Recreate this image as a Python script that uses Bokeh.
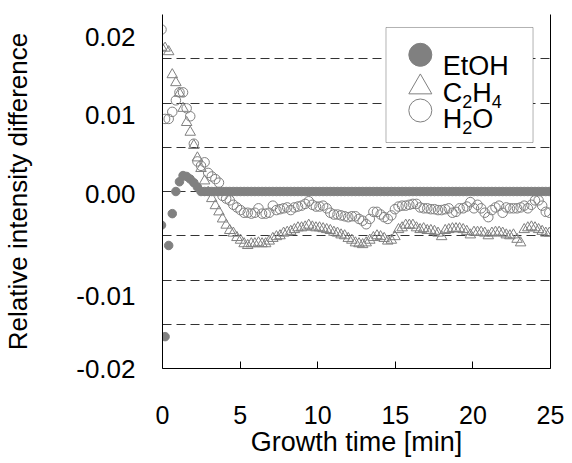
import numpy as np
from bokeh.plotting import figure
from bokeh.models import Range1d, FixedTicker, LinearAxis, Label, BoxAnnotation
from bokeh.embed import file_html
from bokeh.resources import INLINE

# ---------------- data ----------------
# sampling grid of the measurement, minutes
time_min = np.round(np.arange(109) * 0.2314 - 0.064, 3)

etoh = [-0.0038, -0.0164, -0.0061, -0.0025, 0.0, 0.0011, 0.0018, 0.0017, 0.0014, 0.0010,
        0.0005] + [0.0] * 98

c2h4 = [0.0163, 0.0162, 0.0158, 0.0132, 0.0123, 0.0111, 0.0094, 0.0078, 0.0067, 0.0052,
        0.0038, 0.0026, 0.0012, -0.0001, -0.0008, -0.0016, -0.0023, -0.0031, -0.0038, -0.0044,
        -0.0047, -0.0052, -0.0055, -0.0059, -0.0061, -0.0059, -0.0059, -0.0058, -0.0059, -0.0059,
        -0.0056, -0.0053, -0.0051, -0.0050, -0.0047, -0.0046, -0.0045, -0.0043, -0.0041, -0.0041,
        -0.0040, -0.0038, -0.0040, -0.0041, -0.0041, -0.0042, -0.0043, -0.0044, -0.0046, -0.0047,
        -0.0049, -0.0050, -0.0053, -0.0055, -0.0058, -0.0059, -0.0060, -0.0058, -0.0055, -0.0052,
        -0.0050, -0.0051, -0.0053, -0.0056, -0.0055, -0.0051, -0.0043, -0.0041, -0.0038, -0.0038,
        -0.0038, -0.0041, -0.0043, -0.0042, -0.0044, -0.0044, -0.0045, -0.0047, -0.0051, -0.0044,
        -0.0043, -0.0042, -0.0042, -0.0042, -0.0043, -0.0045, -0.0049, -0.0046, -0.0046, -0.0046,
        -0.0047, -0.0050, -0.0047, -0.0046, -0.0046, -0.0047, -0.0049, -0.0050, -0.0049, -0.0054,
        -0.0058, -0.0043, -0.0041, -0.0040, -0.0041, -0.0043, -0.0045, -0.0047, -0.0047]

h2o = [0.0183, 0.0082, 0.0082, 0.0090, 0.0103, 0.0112, 0.0112, 0.0094, 0.0085, 0.0054,
       0.0034, 0.0029, 0.0033, 0.0021, 0.0017, 0.0014, 0.0010, -0.0005, -0.0008, -0.0010,
       -0.0015, -0.0018, -0.0021, -0.0024, -0.0024, -0.0025, -0.0024, -0.0019, -0.0025, -0.0025,
       -0.0024, -0.0016, -0.0021, -0.0020, -0.0019, -0.0018, -0.0021, -0.0018, -0.0017, -0.0016,
       -0.0014, -0.0011, -0.0015, -0.0017, -0.0017, -0.0016, -0.0019, -0.0024, -0.0026, -0.0026,
       -0.0027, -0.0028, -0.0029, -0.0028, -0.0028, -0.0031, -0.0033, -0.0037, -0.0031, -0.0023,
       -0.0023, -0.0026, -0.0029, -0.0031, -0.0027, -0.0020, -0.0017, -0.0016, -0.0016, -0.0015,
       -0.0014, -0.0014, -0.0018, -0.0019, -0.0019, -0.0020, -0.0020, -0.0021, -0.0021, -0.0020,
       -0.0019, -0.0024, -0.0023, -0.0019, -0.0019, -0.0017, -0.0012, -0.0019, -0.0015, -0.0019,
       -0.0024, -0.0029, -0.0021, -0.0018, -0.0016, -0.0024, -0.0018, -0.0019, -0.0019, -0.0019,
       -0.0018, -0.0016, -0.0019, -0.0015, -0.0010, -0.0010, -0.0016, -0.0023, -0.0024]

x_ticks = [0, 5, 10, 15, 20, 25]
y_tick_values = [0.02, 0.01, 0.0, -0.01, -0.02]
y_tick_labels = ["0.02", "0.01", "0.00", "-0.01", "-0.02"]
grid_values = [-0.015, -0.01, -0.005, 0.0, 0.005, 0.01, 0.015, 0.02]

# ---------------- style / layout ----------------
FONT = "Liberation Sans"
GRAY = "#808080"
X0, X1 = 0, 25
Y0, Y1 = -0.02, 0.02
FRAME_H = 354          # frame height in px (463 - 14 - 95)
# the reference prints its y labels a little below their gridline values (px)
y_label_drop_px = [22, 12, 2, 16, 0]
y_label_pos = [round(v - d * (Y1 - Y0) / FRAME_H, 6)
               for v, d in zip(y_tick_values, y_label_drop_px)]

p = figure(width=572, height=463,
           x_range=Range1d(X0, X1), y_range=Range1d(Y0, Y1),
           output_backend="svg", toolbar_location=None,
           min_border_left=161, min_border_right=22,
           min_border_top=14, min_border_bottom=95)
p.outline_line_color = None
p.background_fill_color = "white"
p.border_fill_color = "white"

# x axis
xa = p.xaxis[0]
xa.ticker = FixedTicker(ticks=x_ticks)
xa.minor_tick_line_color = None
xa.major_tick_in = 7
xa.major_tick_out = 0
xa.major_tick_line_color = "black"
xa.axis_line_color = "black"
xa.major_label_text_font = FONT
xa.major_label_text_font_size = "25px"
xa.major_label_text_color = "black"
xa.major_label_standoff = 37
xa.axis_label = "Growth time [min]"
xa.axis_label_text_font = FONT
xa.axis_label_text_font_size = "27px"
xa.axis_label_text_font_style = "normal"
xa.axis_label_text_color = "black"
xa.axis_label_standoff = 0

# y axis
ya = p.yaxis[0]
ya.ticker = FixedTicker(ticks=y_label_pos)
ya.major_label_overrides = {pos: txt for pos, txt in zip(y_label_pos, y_tick_labels)}
ya.minor_tick_line_color = None
ya.major_tick_line_color = None
ya.major_tick_in = 0
ya.major_tick_out = 0
ya.axis_line_color = "black"
ya.major_label_text_font = FONT
ya.major_label_text_font_size = "26px"
ya.major_label_text_color = "black"
ya.major_label_standoff = 27
ya.axis_label = "Relative intensity difference"
ya.axis_label_text_font = FONT
ya.axis_label_text_font_size = "26px"
ya.axis_label_text_font_style = "normal"
ya.axis_label_text_color = "black"
ya.axis_label_standoff = 40

# right frame line
ra = LinearAxis(ticker=FixedTicker(ticks=[]), axis_line_color="black",
                major_tick_line_color=None, minor_tick_line_color=None)
p.add_layout(ra, "right")

p.xgrid.visible = False
p.ygrid.ticker = FixedTicker(ticks=grid_values)
p.ygrid.grid_line_color = "#333333"
p.ygrid.grid_line_dash = "9 5"
p.ygrid.grid_line_width = 1

# ---------------- series ----------------
p.scatter(time_min, etoh, marker="circle", size=8.5,
          fill_color=GRAY, line_color=GRAY)
p.scatter(time_min, c2h4, marker="triangle", size=10.5,
          fill_color=None, line_color=GRAY, line_width=1)
p.scatter(time_min, h2o, marker="circle", size=9.5,
          fill_color=None, line_color=GRAY, line_width=1)

# ---------------- legend (placed as fractions of the frame) ----------------
def fx(f):
    return X0 + f * (X1 - X0)

def fy(f):  # fraction measured from the top of the frame
    return Y1 - f * (Y1 - Y0)

box = BoxAnnotation(left=fx(0.576), right=fx(0.955), top=fy(0.0367), bottom=fy(0.3616),
                    fill_color="white", fill_alpha=1.0, line_color="black",
                    line_width=1, level="underlay")
p.add_layout(box)

sw_x = fx(0.6645)
p.scatter([sw_x], [fy(0.1138)], marker="circle", size=23, fill_color=GRAY, line_color=GRAY)
p.scatter([sw_x], [fy(0.2054)], marker="triangle", size=23, fill_color=None,
          line_color=GRAY, line_width=1)
p.scatter([sw_x], [fy(0.2712)], marker="circle", size=23, fill_color=None,
          line_color=GRAY, line_width=1)

tx = fx(0.7224)
def leg_text(txt, yb, dx=0, sub=False):
    p.add_layout(Label(x=tx, y=yb, x_offset=dx, y_offset=-8 if sub else 0, text=txt,
                       text_align="left", text_baseline="alphabetic",
                       text_font=FONT, text_font_size="18px" if sub else "27px",
                       text_color="black"))

leg_text("EtOH", fy(0.1441))
yb2 = fy(0.2218)
leg_text("C", yb2, 0)
leg_text("2", yb2, 19.5, sub=True)
leg_text("H", yb2, 29.5)
leg_text("4", yb2, 49, sub=True)
yb3 = fy(0.2952)
leg_text("H", yb3, 0)
leg_text("2", yb3, 19.5, sub=True)
leg_text("O", yb3, 29.5)

open("out.html", "w").write(file_html(p, INLINE))
